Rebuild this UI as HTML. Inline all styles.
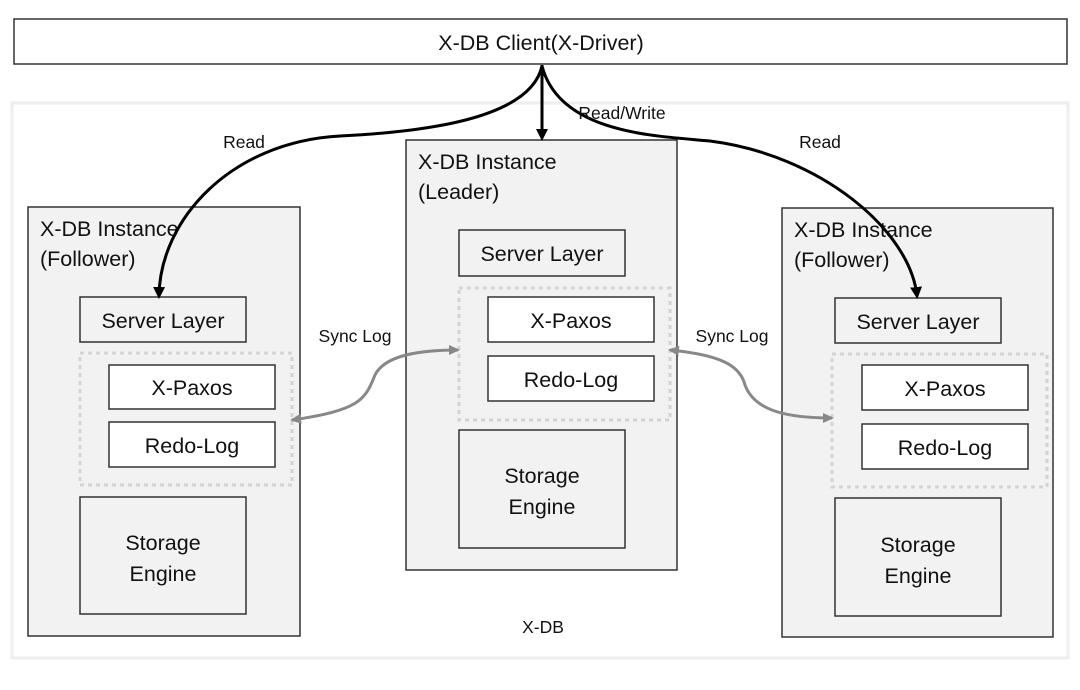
<!DOCTYPE html>
<html><head><style>
body{margin:0;background:#fff;}
svg text{font-family:"Liberation Sans",sans-serif;fill:#111;}
</style></head><body>
<svg width="1080" height="685" viewBox="0 0 1080 685" xmlns="http://www.w3.org/2000/svg">
<defs>
<marker id="ab" markerWidth="12" markerHeight="12" refX="9" refY="6" orient="auto" markerUnits="userSpaceOnUse"><path d="M0,0 L12,6 L0,12 z" fill="#000"/></marker>
<marker id="ag" markerWidth="12" markerHeight="10" refX="9" refY="5" orient="auto-start-reverse" markerUnits="userSpaceOnUse"><path d="M0,0 L11,5 L0,10 z" fill="#888"/></marker>
</defs>
<rect x="14" y="19" width="1053" height="45" fill="#fff" stroke="#333" stroke-width="1.5"/>
<text x="541" y="50" font-size="21.5" text-anchor="middle">X-DB Client(X-Driver)</text>
<rect x="12" y="103" width="1056" height="555" fill="#fff" stroke="#eee" stroke-width="3"/>
<g stroke="#333" stroke-width="1.5">
<rect x="28" y="207" width="272" height="429" fill="#f2f2f2"/>
<rect x="406" y="140" width="271" height="430" fill="#f2f2f2"/>
<rect x="782" y="208" width="271" height="429" fill="#f2f2f2"/>
</g>
<g fill="none" stroke="#d4d4d4" stroke-width="3" stroke-dasharray="4 4">
<rect x="80" y="353" width="212" height="132"/>
<rect x="459" y="288" width="211" height="132"/>
<rect x="832" y="354" width="215" height="133"/>
</g>
<g stroke="#333" stroke-width="1.5">
<rect x="80" y="297" width="166" height="45" fill="#f2f2f2"/>
<rect x="109" y="365" width="166" height="44" fill="#fff"/>
<rect x="109" y="422" width="166" height="45" fill="#fff"/>
<rect x="80" y="497" width="166" height="117" fill="#f2f2f2"/>
<rect x="459" y="230" width="166" height="46" fill="#f2f2f2"/>
<rect x="488" y="297" width="166" height="45" fill="#fff"/>
<rect x="488" y="356" width="166" height="45" fill="#fff"/>
<rect x="459" y="430" width="166" height="118" fill="#f2f2f2"/>
<rect x="835" y="298" width="166" height="45" fill="#f2f2f2"/>
<rect x="862" y="365" width="166" height="45" fill="#fff"/>
<rect x="862" y="424" width="166" height="45" fill="#fff"/>
<rect x="835" y="498" width="166" height="118" fill="#f2f2f2"/>
</g>
<g font-size="21.5">
<text x="40" y="236">X-DB Instance</text><text x="40" y="266">(Follower)</text>
<text x="418" y="169">X-DB Instance</text><text x="418" y="199">(Leader)</text>
<text x="794" y="237">X-DB Instance</text><text x="794" y="267">(Follower)</text>
<g text-anchor="middle">
<text x="163" y="328">Server Layer</text>
<text x="192" y="395">X-Paxos</text>
<text x="192" y="453">Redo-Log</text>
<text x="163" y="550">Storage</text><text x="163" y="581">Engine</text>
<text x="542" y="261">Server Layer</text>
<text x="571" y="328">X-Paxos</text>
<text x="571" y="387">Redo-Log</text>
<text x="542" y="483">Storage</text><text x="542" y="514">Engine</text>
<text x="918" y="329">Server Layer</text>
<text x="945" y="396">X-Paxos</text>
<text x="945" y="455">Redo-Log</text>
<text x="918" y="552">Storage</text><text x="918" y="583">Engine</text>
</g></g>
<g fill="none" stroke="#000" stroke-width="3">
<path d="M542,65 L542,138" marker-end="url(#ab)"/>
<path d="M542,66 C530,120 420,132 340,136 C230,142 160,220 159,296" marker-end="url(#ab)"/>
<path d="M542,66 C560,135 660,136 710,141 C820,155 910,230 917,296" marker-end="url(#ab)"/>
</g>
<g fill="none" stroke="#888" stroke-width="3">
<path d="M292,420 C360,410 365,400 375,375 C385,355 420,350 458,350" marker-start="url(#ag)" marker-end="url(#ag)"/>
<path d="M670,350 C720,355 740,365 745,385 C755,412 790,418 832,418" marker-start="url(#ag)" marker-end="url(#ag)"/>
</g>
<g font-size="17.5">
<text x="244" y="148" text-anchor="middle">Read</text>
<text x="622" y="119" text-anchor="middle">Read/Write</text>
<text x="820" y="148" text-anchor="middle">Read</text>
<text x="355" y="342" text-anchor="middle">Sync Log</text>
<text x="732" y="342" text-anchor="middle">Sync Log</text>
<text x="543" y="633" text-anchor="middle">X-DB</text>
</g>
</svg>
</body></html>
